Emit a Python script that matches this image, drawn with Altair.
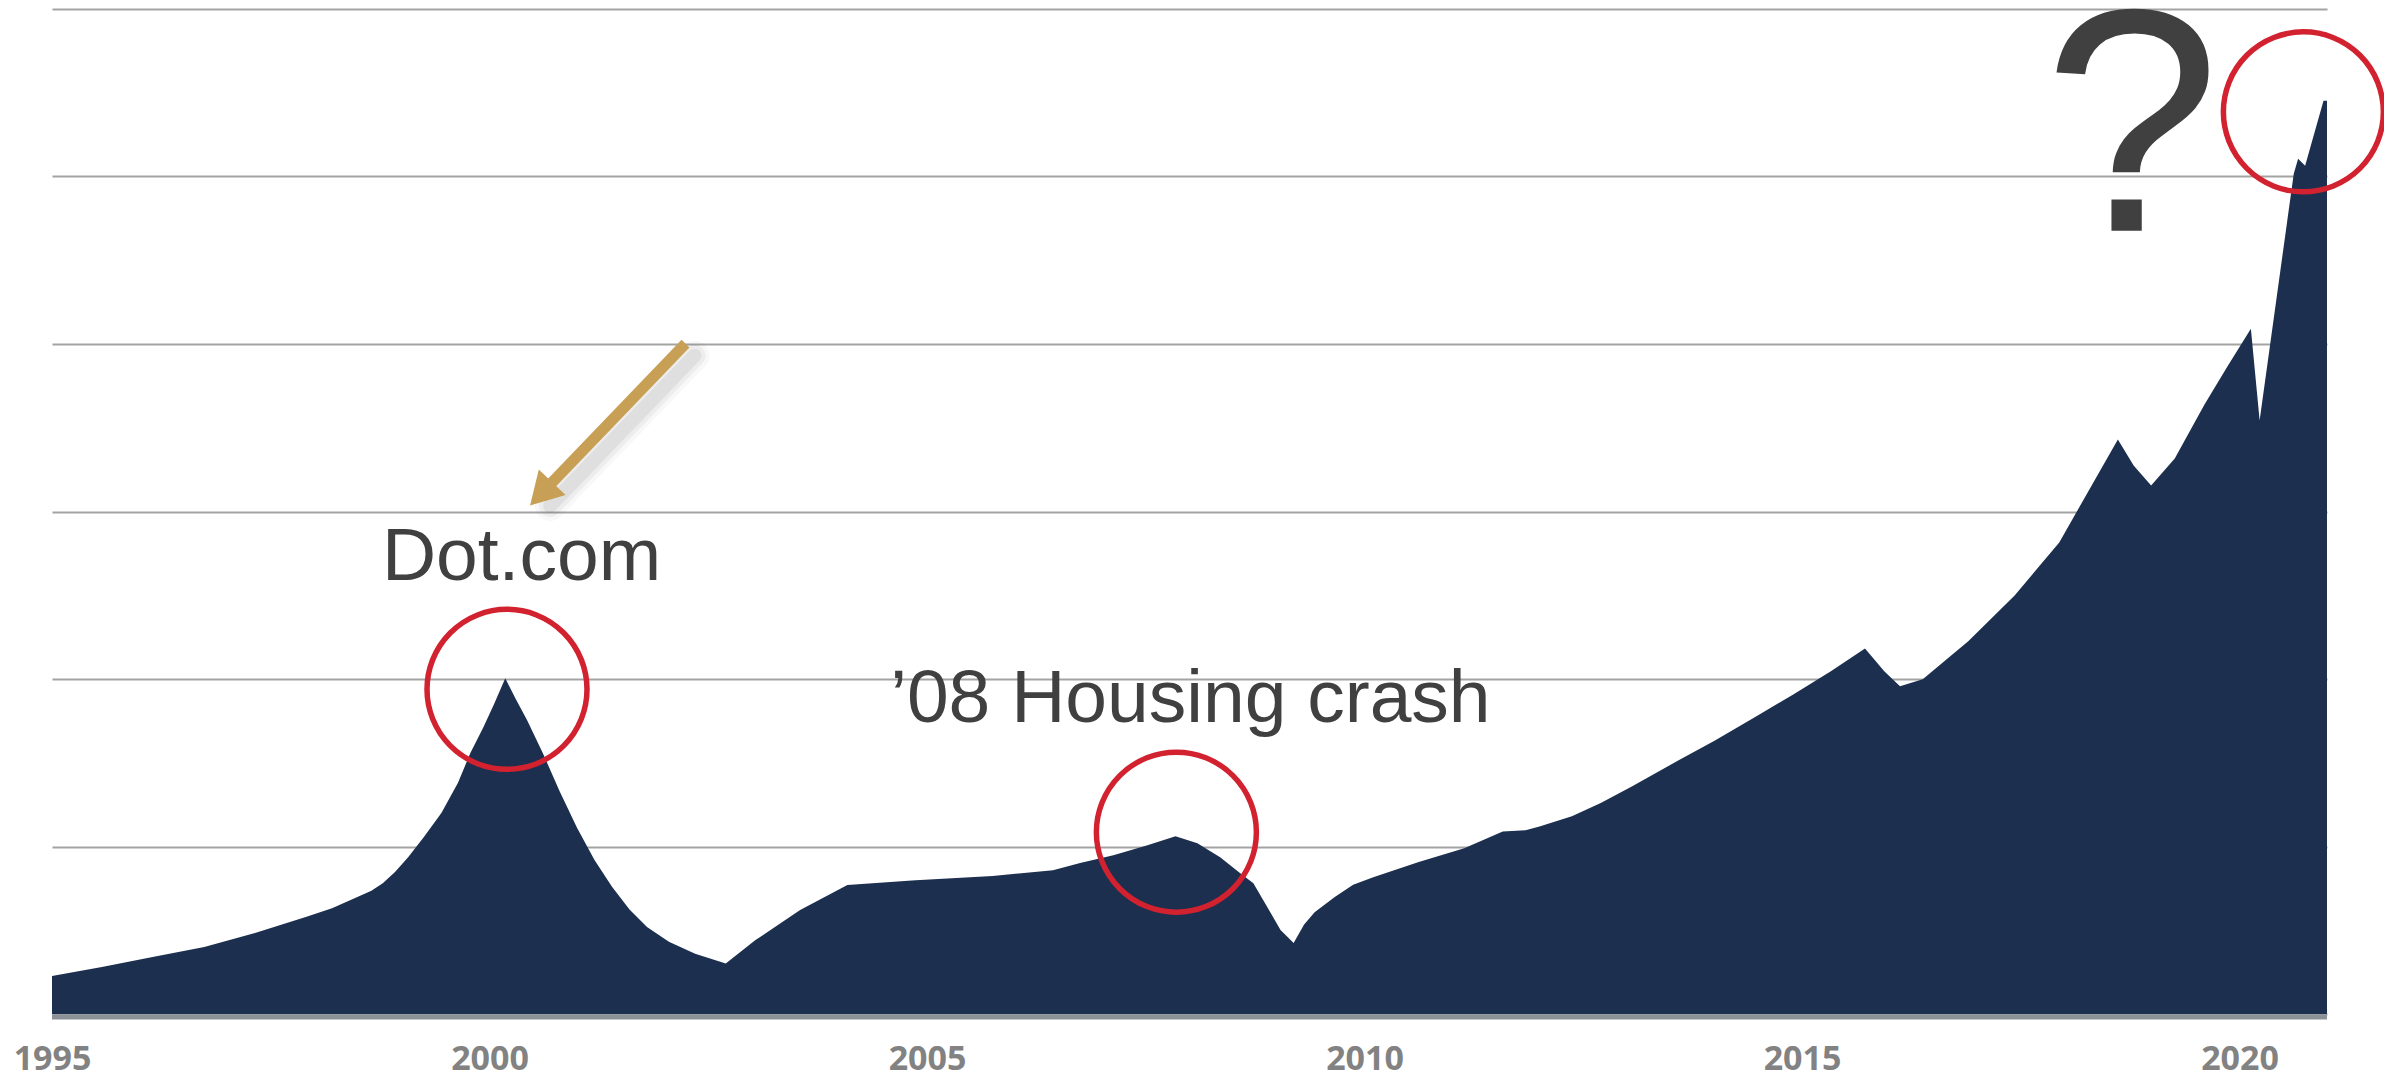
import altair as alt
import pandas as pd

# ---- series ----
years = [1995.00, 1995.57, 1996.15, 1996.74, 1997.32, 1997.90, 1998.20, 1998.49,
         1998.65, 1998.78, 1998.92, 1999.07, 1999.25, 1999.45, 1999.64, 1999.78,
         1999.93, 2000.05, 2000.18, 2000.30, 2000.43, 2000.61, 2000.80, 2001.00,
         2001.20, 2001.40, 2001.60, 2001.80, 2002.05, 2002.35, 2002.70, 2003.04,
         2003.55, 2004.09, 2004.87, 2005.75, 2006.44, 2006.75, 2007.13, 2007.52,
         2007.84, 2008.09, 2008.35, 2008.58, 2008.73, 2008.89, 2009.04, 2009.19,
         2009.31, 2009.43, 2009.66, 2009.87, 2010.10, 2010.62, 2011.14, 2011.58,
         2011.84, 2012.00, 2012.37, 2012.70, 2013.06, 2013.59, 2014.00, 2014.46,
         2014.90, 2015.33, 2015.72, 2015.94, 2016.12, 2016.38, 2016.90, 2017.43,
         2017.94, 2018.25, 2018.61, 2018.79, 2018.99, 2019.26, 2019.60, 2019.86,
         2020.13, 2020.23, 2020.62, 2020.67, 2020.75, 2020.96, 2021.00]
values = [567, 701, 850, 999, 1208, 1446, 1580, 1745,
          1840, 1953, 2120, 2341, 2640, 3000, 3450, 3892,
          4279, 4620, 5010, 4700, 4384, 3892, 3330, 2780,
          2300, 1900, 1560, 1300, 1080, 900, 755, 1103,
          1551, 1924, 1998, 2058, 2147, 2252, 2371, 2520,
          2654, 2550, 2341, 2102, 1953, 1595, 1253, 1059,
          1335, 1517, 1745, 1930, 2040, 2268, 2473, 2723,
          2744, 2800, 2952, 3150, 3400, 3787, 4080, 4429,
          4770, 5114, 5457, 5114, 4891, 4995, 5562, 6248,
          7038, 7750, 8574, 8186, 7888, 8291, 9096, 9662,
          10229, 8857, 12540, 12764, 12659, 13629, 13629]

tick_years = [1995, 2000, 2005, 2010, 2015, 2020]
grid_values = [0, 2500, 5000, 7500, 10000, 12500, 15000]

# annotations (in data units)
label_text = ["Dot.com", "\u201908 Housing crash"]
label_year = [1998.77, 2004.58]
label_value = [6471, 4354]

qmark_year = [2018.77]
qmark_value = [11690]

circle_year = [2000.20, 2007.85, 2020.73]
circle_value = [4846, 2714, 13465]

arrow_year = [2002.24]
arrow_value = [10005]
arrow_end_year = [2000.59]
arrow_end_value = [7763]

# ---- tables ----
df = pd.DataFrame({"year": years, "value": values})
df_base = pd.DataFrame({"year": [1995], "year2": [2021], "value": [0]})
df_labels = pd.DataFrame({"year": label_year, "value": label_value, "text": label_text})
df_q = pd.DataFrame({"year": qmark_year, "value": qmark_value, "text": ["?"]})
df_circ = pd.DataFrame({"year": circle_year, "value": circle_value})
df_arrow = pd.DataFrame({"year": arrow_year, "value": arrow_value,
                         "year2": arrow_end_year, "value2": arrow_end_value})
df_head = pd.DataFrame({"year": arrow_end_year, "value": arrow_end_value})

x_scale = alt.Scale(domain=[1995, 2021], nice=False, zero=False)
y_scale = alt.Scale(domain=[0, 15000], nice=False, zero=True)

x_axis = alt.Axis(values=tick_years, format="d", title=None, grid=False, domain=False,
                  ticks=False, tickSize=0, labelFont="Open Sans", labelFontWeight="bold",
                  labelFontSize=34, labelColor="#828282", labelPadding=55,
                  labelBaseline="alphabetic", labelFlush=False, labelOverlap=False)
y_axis = alt.Axis(values=grid_values, title=None, labels=False, ticks=False, domain=False,
                  grid=True, gridColor="#a3a3a3", gridWidth=2)

X = alt.X("year:Q", scale=x_scale, axis=x_axis, title=None)
Y = alt.Y("value:Q", scale=y_scale, axis=y_axis, title=None)
Xs = alt.X("year:Q", title=None)
Ys = alt.Y("value:Q", title=None)

area = alt.Chart(df).mark_area(color="#1c2f4e", interpolate="linear").encode(x=X, y=Y)

base_shadow = alt.Chart(df_base).mark_rule(color="#8b9197", strokeWidth=5, yOffset=3).encode(
    x=Xs, x2="year2:Q", y=Ys)

shadow_layers = []
for w, op in [(30, 0.04), (22, 0.06), (14, 0.08)]:
    shadow_layers.append(
        alt.Chart(df_arrow).mark_rule(color="#444444", strokeWidth=w, opacity=op,
                                      xOffset=9, yOffset=12, x2Offset=9, y2Offset=12,
                                      strokeCap="round").encode(
            x=Xs, y=Ys, x2="year2:Q", y2="value2:Q"))

arrow = alt.Chart(df_arrow).mark_rule(color="#c8a055", strokeWidth=11, strokeCap="butt").encode(
    x=Xs, y=Ys, x2="year2:Q", y2="value2:Q")
head = alt.Chart(df_head).mark_point(shape="triangle-up", filled=True, size=1369, angle=223.7,
                                     color="#c8a055", opacity=1).encode(x=Xs, y=Ys)

circles = alt.Chart(df_circ).mark_point(shape="circle", filled=False, size=25600, strokeWidth=5.5,
                                        color="#d3222f", opacity=1).encode(x=Xs, y=Ys)

labels = alt.Chart(df_labels).mark_text(align="left", baseline="alphabetic", font="Liberation Sans",
                                        fontSize=75, color="#404040").encode(x=Xs, y=Ys, text="text:N")

qmark = alt.Chart(df_q).mark_text(align="center", baseline="alphabetic", font="Liberation Sans",
                                  fontSize=318, color="#404040").encode(x=Xs, y=Ys, text="text:N")

chart = alt.layer(area, base_shadow, *shadow_layers, arrow, head, circles, labels, qmark).properties(
    width=2275, height=1005,
    autosize=alt.AutoSizeParams(type="none"),
    padding={"left": 44, "top": 1, "right": 57, "bottom": 64},
).configure_view(stroke=None)

chart.save("out.html", embed_options={"renderer": "svg", "actions": False})
